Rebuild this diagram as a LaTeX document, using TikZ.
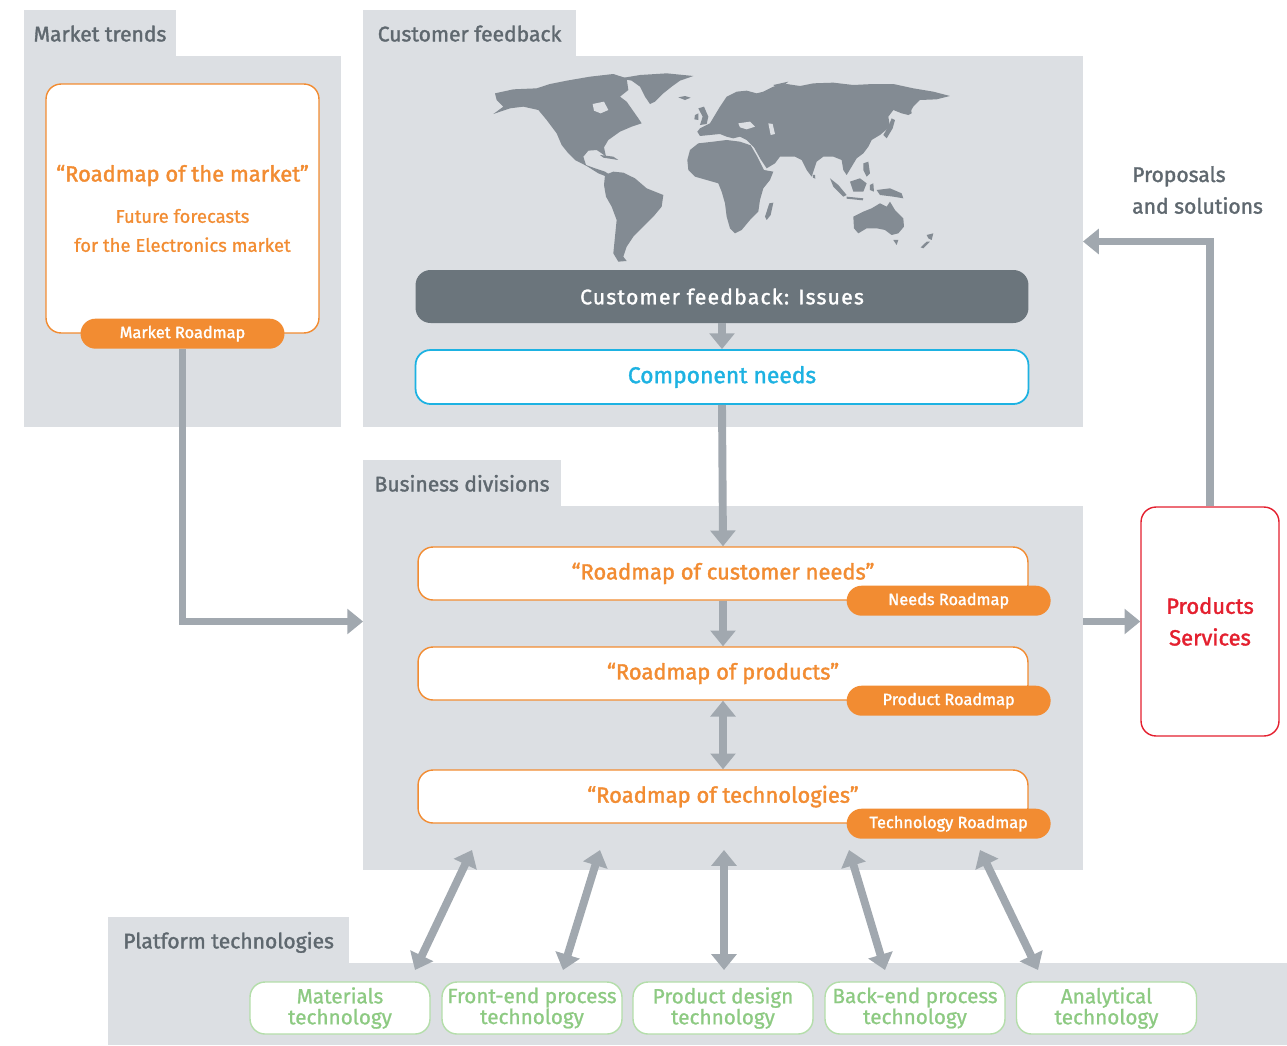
\documentclass[tikz,border=0pt]{standalone}
\usepackage{fontspec}
\setmainfont{Fira Sans}
\newfontfamily\medfont{Fira Sans}[FakeBold=1.6]
\newfontfamily\semfont{Fira Sans}[FakeBold=0.9]
\usetikzlibrary{positioning,arrows.meta}
\pgfdeclarelayer{panellayer}
\pgfsetlayers{panellayer,main}
\definecolor{panelgray}{HTML}{DCDFE3}
\definecolor{tabtext}{HTML}{5F686F}
\definecolor{roadorange}{HTML}{F28C32}
\definecolor{arrowgray}{HTML}{A1A8AF}
\definecolor{issuegray}{HTML}{6B757C}
\definecolor{mapgray}{HTML}{838B93}
\definecolor{needcyan}{HTML}{1DB2E2}
\definecolor{prodred}{HTML}{E4202F}
\definecolor{techgreen}{HTML}{8DCA82}
\definecolor{techborder}{HTML}{B4DEAA}
\tikzset{>={Triangle[width=14pt,length=9pt]}}
\tikzstyle{arrow}  = [->,
                      line width=4.5pt,
                      draw=arrowgray]
\tikzstyle{dblarrow} = [<->,
                      line width=4.5pt,
                      draw=arrowgray]
\tikzstyle{panel}=[
                   fill=panelgray,
                   inner sep=0pt,
                   outer sep=0pt
                  ]
\tikzstyle{tab}=[
                 panel,
                 minimum height=0.92cm,
                 text height=2.1ex,
                 text depth=0.3ex,
                 text=tabtext,
                 font=\medfont\fontsize{12}{13}\selectfont
                ]
\tikzstyle{roadbox}=[
                     draw=roadorange,
                     fill=white,
                     line width=0.8pt,
                     rounded corners=0.3cm,
                     minimum width=12.2cm,
                     minimum height=1.06cm,
                     text=roadorange,
                     font=\medfont\fontsize{12.5}{14}\selectfont
                    ]
\tikzstyle{pill}=[
                  fill=roadorange,
                  rounded corners=0.3cm,
                  minimum width=4.08cm,
                  minimum height=0.6cm,
                  inner sep=0pt,
                  text=white,
                  font=\medfont\fontsize{9.3}{10}\selectfont
                 ]
\tikzstyle{techbox}=[
                     draw=techborder,
                     fill=white,
                     line width=0.8pt,
                     rounded corners=0.3cm,
                     minimum width=3.6cm,
                     minimum height=1.04cm,
                     inner sep=1pt,
                     align=center,
                     text=techgreen,
                     font=\semfont\fontsize{11.8}{11.9}\selectfont
                    ]
\tikzstyle{land}=[fill=mapgray]

\begin{document}
\begin{tikzpicture}[x=0.02cm, y=-0.02cm]

  \useasboundingbox (0,0) rectangle (1287,1045);

  % Panels
  \begin{pgfonlayer}{panellayer}
    \node[panel, minimum width=6.34cm, minimum height=7.42cm] (mtp) at (182.5,241.5) {};
    \node[tab, minimum width=3.04cm, anchor=south west] (mtt) at (mtp.north west) {Market trends};
    \node[panel, minimum width=14.4cm, minimum height=7.42cm] (cfp) at (723,241.5) {};
    \node[tab, minimum width=4.26cm, anchor=south west] (cft) at (cfp.north west) {Customer feedback};
    \node[panel, minimum width=14.4cm, minimum height=7.28cm] (bdp) at (723,688) {};
    \node[tab, minimum width=3.96cm, anchor=south west] (bdt) at (bdp.north west) {Business divisions};
    \node[panel, minimum width=23.58cm, minimum height=1.64cm] (ptp) at (697.5,1004) {};
    \node[tab, minimum width=4.82cm, anchor=south west] (ptt) at (ptp.north west) {Platform technologies};
  \end{pgfonlayer}

  % World map
  \begin{scope}[shift={(480,60)}, x=0.02cm/3, y=-0.02cm/3]
    \fill[land] (45,100) -- (100,88) -- (170,85) -- (210,72) -- (260,62) -- (330,50) -- (400,42)
      -- (440,55) -- (445,90) -- (420,110) -- (440,125) -- (475,175) -- (485,190) -- (455,200)
      -- (420,215) -- (385,240) -- (372,262) -- (378,290) -- (365,280) -- (350,270) -- (325,272)
      -- (310,290) -- (318,315) -- (345,325) -- (375,335) -- (390,345) -- (380,350) -- (355,340)
      -- (320,318) -- (285,300) -- (265,280) -- (245,255) -- (230,220) -- (200,180) -- (175,150)
      -- (130,140) -- (90,145) -- (40,162) -- (70,140) -- (50,120) -- cycle;
    \fill[panelgray] (338,132) -- (372,125) -- (385,150) -- (362,160) -- (342,152) -- cycle;
    \fill[land] (420,55) -- (480,45) -- (560,40) -- (640,48) -- (600,62) -- (575,80) -- (550,100)
      -- (525,125) -- (510,132) -- (495,110) -- (480,80) -- (455,62) -- cycle;
    \fill[land] (595,112) -- (615,108) -- (632,113) -- (615,120) -- cycle;
    \fill[land] (360,285) -- (400,290) -- (415,300) -- (370,293) -- cycle;
    \fill[land] (375,345) -- (400,335) -- (430,338) -- (465,355) -- (500,385) -- (550,405)
      -- (545,440) -- (520,470) -- (490,500) -- (460,530) -- (440,560) -- (430,590) -- (440,603)
      -- (415,605) -- (400,580) -- (405,530) -- (410,480) -- (395,440) -- (378,410) -- (372,375) -- cycle;
    \fill[land] (660,205) -- (690,190) -- (705,165) -- (720,140) -- (740,110) -- (770,95) -- (800,92)
      -- (830,100) -- (850,95) -- (880,80) -- (920,72) -- (960,78) -- (1000,70) -- (1060,68)
      -- (1120,75) -- (1180,72) -- (1240,72) -- (1300,85) -- (1360,95) -- (1410,108) -- (1370,118)
      -- (1320,120) -- (1300,140) -- (1285,165) -- (1265,160) -- (1240,150) -- (1225,170)
      -- (1230,200) -- (1200,225) -- (1175,240) -- (1165,260) -- (1150,280) -- (1130,295)
      -- (1115,320) -- (1100,345) -- (1090,330) -- (1085,300) -- (1060,290) -- (1030,290)
      -- (1010,305) -- (995,350) -- (980,330) -- (965,300) -- (945,290) -- (915,290) -- (900,290)
      -- (885,310) -- (860,325) -- (842,298) -- (822,262) -- (800,240) -- (780,230) -- (760,235)
      -- (740,230) -- (720,222) -- (690,225) -- (660,228) -- (652,215) -- cycle;
    \fill[panelgray] (775,190) -- (810,185) -- (825,200) -- (800,208) -- (780,202) -- cycle;
    \fill[panelgray] (865,190) -- (878,192) -- (885,222) -- (872,225) -- cycle;
    \fill[land] (630,270) -- (655,250) -- (700,245) -- (740,240) -- (780,245) -- (812,256)
      -- (832,290) -- (852,330) -- (880,335) -- (870,360) -- (850,385) -- (840,420) -- (835,455)
      -- (810,480) -- (785,510) -- (765,520) -- (750,505) -- (740,470) -- (735,430) -- (725,395)
      -- (715,370) -- (680,360) -- (645,350) -- (625,330) -- (622,300) -- cycle;
    \fill[land] (868,430) -- (880,428) -- (872,465) -- (860,480) -- (855,470) -- cycle;
    \fill[land] (655,145) -- (672,140) -- (685,170) -- (680,192) -- (660,195) -- (668,170) -- cycle;
    \fill[land] (645,165) -- (655,160) -- (655,180) -- (643,178) -- cycle;
    \fill[land] (880,75) -- (925,65) -- (895,90) -- cycle;
    \fill[land] (1210,225) -- (1225,200) -- (1235,175) -- (1245,180) -- (1238,205) -- (1220,235) -- cycle;
    \fill[land] (1280,130) -- (1290,125) -- (1295,160) -- (1285,165) -- cycle;
    \fill[land] (1050,355) -- (1075,375) -- (1100,405) -- (1090,410) -- (1060,380) -- cycle;
    \fill[land] (1100,410) -- (1150,415) -- (1148,421) -- (1100,416) -- cycle;
    \fill[land] (1110,365) -- (1140,355) -- (1160,370) -- (1150,395) -- (1120,395) -- cycle;
    \fill[land] (1170,375) -- (1180,370) -- (1182,395) -- (1170,390) -- cycle;
    \fill[land] (1150,310) -- (1165,305) -- (1170,340) -- (1160,350) -- (1150,330) -- cycle;
    \fill[land] (1190,390) -- (1230,385) -- (1265,400) -- (1270,415) -- (1240,410) -- (1200,405) -- cycle;
    \fill[land] (1120,470) -- (1150,455) -- (1175,445) -- (1200,430) -- (1220,440) -- (1230,425)
      -- (1245,450) -- (1270,475) -- (1272,500) -- (1255,520) -- (1235,525) -- (1215,510)
      -- (1190,505) -- (1160,505) -- (1135,520) -- (1122,505) -- cycle;
    \fill[land] (1240,540) -- (1255,540) -- (1250,555) -- cycle;
    \fill[land] (1340,525) -- (1360,520) -- (1355,540) -- (1345,535) -- cycle;
    \fill[land] (1340,545) -- (1350,545) -- (1330,565) -- (1322,562) -- cycle;
    \fill[land] (998,345) -- (1005,345) -- (1006,356) -- (999,353) -- cycle;
  \end{scope}

  % Nodes
  \node[roadbox, minimum width=5.46cm, minimum height=4.98cm, align=center,
        font=\semfont\fontsize{10.5}{16.5}\selectfont] (mkt) at (182.5,208.5)
    {{\medfont\fontsize{12.5}{14}\selectfont “Roadmap of the market”}\\[7pt]
     Future forecasts\\ for the Electronics market};
  \node[pill] (mr) at (mkt.south) {Market Roadmap};

  \node[fill=issuegray, rounded corners=0.3cm, minimum width=12.26cm, minimum height=1.06cm,
        text=white, font=\medfont\fontsize{12}{14}\selectfont\addfontfeatures{LetterSpace=6}]
    (issues) at (722,296.5) {Customer feedback: Issues};
  \node[draw=needcyan, line width=1pt, fill=white, rounded corners=0.3cm, minimum width=12.26cm,
        minimum height=1.08cm, text=needcyan, font=\medfont\fontsize{13}{15}\selectfont]
    (cn) at (722,377) {Component needs};

  \node[roadbox] (needs) at (723,573.5) {“Roadmap of customer needs”};
  \node[pill] (np) at ([xshift=-1.6cm]needs.south east) {Needs Roadmap};
  \node[roadbox] (prod) at (723,673.5) {“Roadmap of products”};
  \node[pill] (pp) at ([xshift=-1.6cm]prod.south east) {Product Roadmap};
  \node[roadbox] (tech) at (723,796.5) {“Roadmap of technologies”};
  \node[pill] (tp) at ([xshift=-1.6cm]tech.south east) {Technology Roadmap};

  \node[draw=prodred, line width=0.8pt, fill=white, rounded corners=0.3cm, minimum width=2.76cm,
        minimum height=4.58cm, align=center, text=prodred,
        font=\medfont\fontsize{12.5}{18}\selectfont] (ps) at (1210,621.5) {Products\\Services};

  \node[anchor=west, align=left, text=tabtext, font=\medfont\fontsize{12}{18}\selectfont]
    (prop) at (1126,190) {Proposals\\and solutions};

  \foreach \name/\x/\txt in {mat/340/{Materials\\technology},
                             fep/532/{Front-end process\\technology},
                             pdt/723/{Product design\\technology},
                             bep/915/{Back-end process\\technology},
                             ana/1106.5/{Analytical\\technology}} {
    \node[techbox] (\name) at (\x,1008) {\txt};
  }

  % Edges
  \draw[arrow] (issues.south) -- (cn.north);
  \draw[arrow] (cn.south) -- (needs.north);
  \draw[arrow] (needs.south) -- (prod.north);
  \draw[dblarrow] (prod.south) -- (tech.north);
  \draw[arrow] (mr.south) |- (bdp.west |- ps);
  \draw[arrow] (bdp.east |- ps) -- (ps.west);
  \draw[arrow] (ps.north) |- (cfp.east);

  \foreach \i/\a/\b in {1/415/472, 2/563/600, 3/724/724, 4/885/849, 5/1038/980} {
    \coordinate (lo\i) at (\a,970);
    \coordinate (hi\i) at (\b,850);
    \draw[dblarrow] (lo\i) -- (hi\i);
  }

\end{tikzpicture}
\end{document}
